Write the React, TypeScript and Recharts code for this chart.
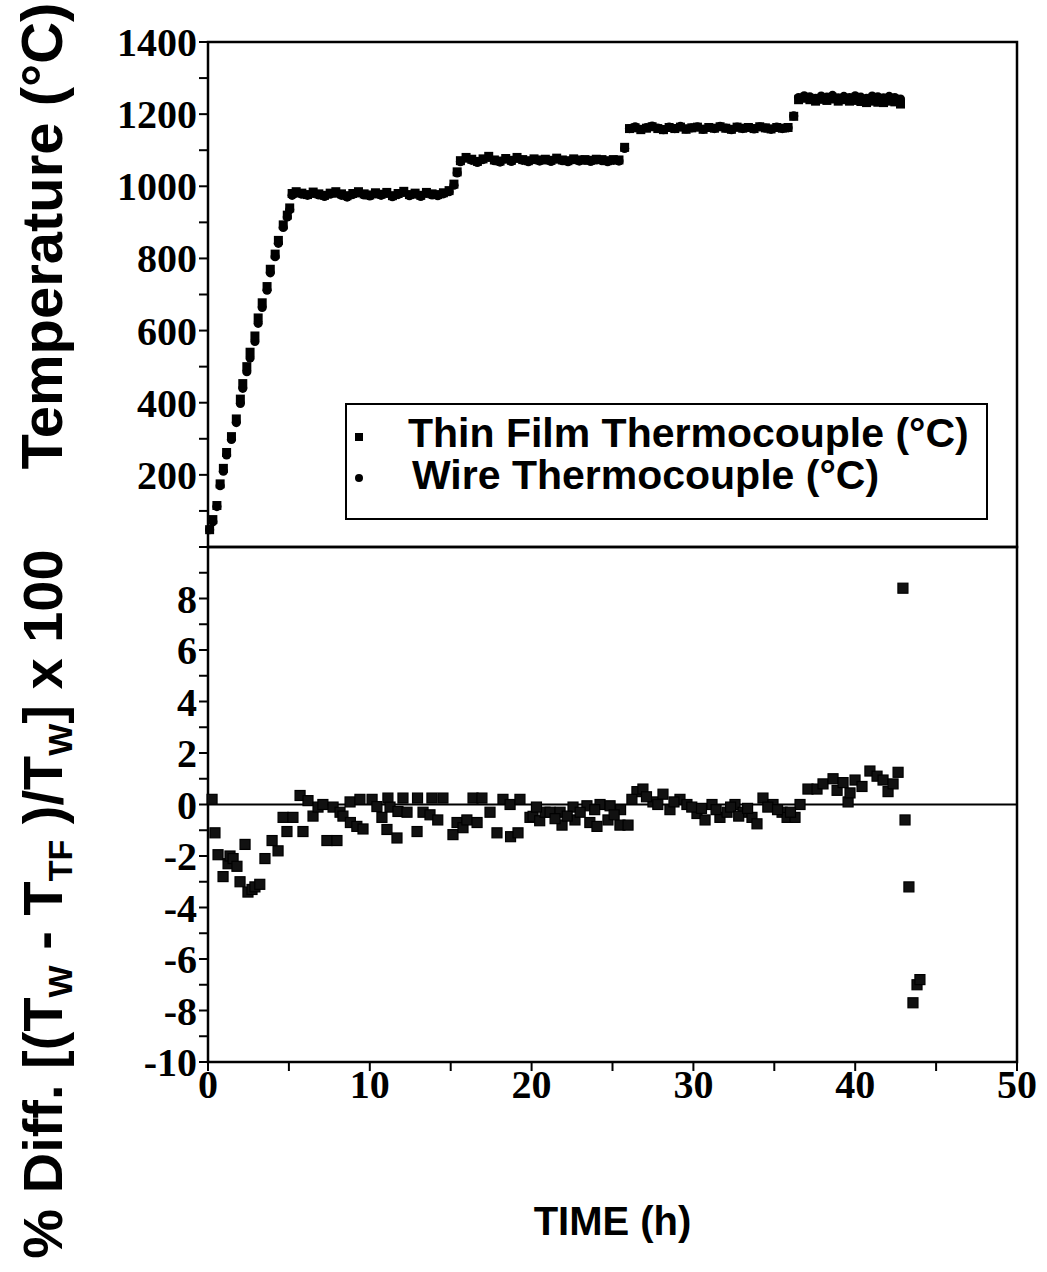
import React from 'react';
import {
  ScatterChart,
  Scatter,
  XAxis,
  YAxis,
  ReferenceArea,
  ReferenceLine,
  Legend,
} from 'recharts';

// ---- upper panel: temperature vs time ----
const tempHours = [
  // heat-up ramp
  0.1, 0.3, 0.55, 0.75, 0.95, 1.15, 1.45, 1.75, 2.0, 2.15, 2.4, 2.6, 2.9, 3.1, 3.35, 3.65, 3.85, 4.15, 4.35, 4.65, 4.9, 5.05, 5.2,
  // ~980 C hold
  5.45, 5.8, 6.15, 6.5, 6.85, 7.2, 7.55, 7.9, 8.25, 8.6, 8.95, 9.3, 9.65, 10.0, 10.35, 10.7, 11.05, 11.4, 11.75, 12.1, 12.45, 12.8, 13.15, 13.5, 13.85, 14.2, 14.55, 14.9,
  15.2, 15.4,
  // ~1070 C hold
  15.6, 15.95, 16.3, 16.65, 17.0, 17.35, 17.7, 18.05, 18.4, 18.75, 19.1, 19.45, 19.8, 20.15, 20.5, 20.85, 21.2, 21.55, 21.9, 22.25, 22.6, 22.95, 23.3, 23.65, 24.0, 24.35, 24.7, 25.05, 25.4,
  25.75,
  // ~1160 C hold
  26.05, 26.4, 26.75, 27.1, 27.45, 27.8, 28.15, 28.5, 28.85, 29.2, 29.55, 29.9, 30.25, 30.6, 30.95, 31.3, 31.65, 32.0, 32.35, 32.7, 33.05, 33.4, 33.75, 34.1, 34.45, 34.8, 35.15, 35.5, 35.85,
  36.2,
  // ~1245 C hold
  36.5, 36.85, 37.2, 37.55, 37.9, 38.25, 38.6, 38.95, 39.3, 39.65, 40.0, 40.35, 40.7, 41.05, 41.4, 41.75, 42.1, 42.45, 42.8,
];

const wireTemp = [
  48, 70, 112, 170, 210, 255, 298, 345, 398, 440, 486, 524, 570, 620, 664, 712, 760, 805, 842, 886, 915, 935, 975,
  982, 978, 975, 980, 976, 972, 978, 981, 975, 970, 977, 982, 976, 973, 979, 975, 980, 971, 977, 983, 974, 978, 972, 980, 976, 974, 979, 985,
  1003, 1037,
  1068, 1078, 1072, 1066, 1074, 1080, 1071, 1067, 1075, 1069, 1077, 1072, 1068, 1074, 1070, 1073, 1069, 1075, 1071, 1068, 1074, 1070, 1072, 1069, 1073, 1071, 1068, 1072, 1070,
  1105,
  1160, 1165, 1158, 1163, 1167, 1161, 1157, 1164, 1160, 1166, 1159, 1162, 1165, 1158, 1163, 1160, 1166, 1161, 1157, 1164, 1160, 1163, 1159, 1165, 1161, 1158, 1164, 1160, 1162,
  1195,
  1246, 1251, 1248, 1244, 1250, 1247, 1252, 1245, 1249, 1246, 1251, 1247, 1244, 1250, 1248, 1245, 1249, 1246, 1242,
];

const filmTemp = [
  48, 76, 115, 175, 218, 262, 306, 355, 410, 453, 500, 540, 585, 635, 677, 722, 770, 812, 850, 893, 920, 940, 980,
  985, 981, 977, 984, 979, 975, 981, 985, 979, 974, 980, 985, 979, 976, 982, 978, 983, 974, 980, 986, 977, 981, 975, 983, 979, 977, 982, 988,
  1006, 1040,
  1071, 1080, 1075, 1069, 1076, 1083, 1073, 1070, 1077, 1072, 1080, 1074, 1071, 1076, 1073, 1075, 1072, 1078, 1073, 1071, 1076, 1073, 1074, 1072, 1075, 1074, 1071, 1074, 1073,
  1108,
  1160, 1162, 1157, 1161, 1165, 1160, 1157, 1163, 1160, 1164, 1158, 1162, 1164, 1158, 1163, 1161, 1165, 1161, 1158, 1164, 1161, 1163, 1160, 1165, 1162, 1159, 1163, 1161, 1163,
  1194,
  1240, 1244, 1240, 1236, 1241, 1238, 1242, 1236, 1240, 1236, 1238, 1235, 1232, 1236, 1233, 1232, 1236, 1234, 1228,
];

// ---- lower panel: % difference ----
const diffHours = [
  0.25, 0.43, 0.62, 0.93, 1.24, 1.36, 1.55, 1.79, 1.98, 2.29,
  2.47, 2.72, 2.9, 3.2, 3.52, 3.96, 4.33, 4.64, 4.88, 5.25,
  5.69, 5.87, 6.18, 6.49, 6.8, 7.1, 7.35, 7.73, 7.97, 8.16,
  8.34, 8.78, 8.8, 9.2, 9.39, 9.58, 10.14, 10.44, 10.75, 11.06,
  11.12, 11.25, 11.68, 11.74, 12.05, 12.3, 12.92, 12.95, 13.29, 13.72,
  13.84, 14.2, 14.52, 15.14, 15.39, 15.76, 16.0, 16.38, 16.63, 16.93,
  17.43, 17.86, 18.23, 18.67, 18.7, 19.16, 19.28, 19.9, 20.09, 20.5,
  20.83, 21.14, 21.76, 21.88, 22.56, 22.68, 23.42, 23.6, 24.04, 24.23,
  24.72, 24.85, 25.46, 25.5, 25.96, 26.51, 26.88, 27.5, 28.12, 28.55,
  29.17, 29.6, 30.22, 30.72, 31.15, 31.64, 32.08, 32.57, 33.07, 33.62,
  33.93, 34.3, 34.92, 35.48, 35.79, 36.28, 36.59, 37.08, 37.64, 38.01,
  38.63, 38.88, 39.25, 39.56, 39.68, 39.99, 40.42, 40.91, 41.35, 41.72,
  42.03, 42.34, 42.65, 42.95, 43.08, 43.32, 43.57, 43.82, 44.0,
  20.3, 21.45, 22.2, 23.0, 23.9, 25.1, 26.2, 27.1, 27.8, 28.8,
  29.9, 30.5, 31.4, 32.3, 32.8, 33.35, 34.6, 35.2, 36.0,
];

const pctDiff = [
  0.2, -1.1, -1.95, -2.8, -2.3, -2.0, -2.1, -2.4, -3.0, -1.55,
  -3.4, -3.3, -3.2, -3.1, -2.1, -1.4, -1.8, -0.5, -1.05, -0.5,
  0.35, -1.05, 0.15, -0.45, -0.1, 0.0, -1.4, -0.1, -1.4, -0.3,
  -0.45, 0.1, -0.7, -0.85, 0.2, -0.95, 0.2, -0.08, -0.5, -0.97,
  0.25, -0.1, -1.3, -0.27, 0.25, -0.3, -1.05, 0.25, -0.3, -0.4,
  0.25, -0.6, 0.25, -1.17, -0.7, -0.9, -0.6, 0.25, -0.7, 0.25,
  -0.3, -1.1, 0.2, 0.0, -1.25, -1.1, 0.2, -0.5, -0.46, -0.63,
  -0.3, -0.3, -0.3, -0.8, -0.1, -0.6, -0.05, -0.7, -0.85, 0.0,
  -0.6, -0.05, -0.8, -0.2, -0.8, 0.5, 0.6, 0.1, 0.4, -0.2,
  0.2, 0.0, -0.35, -0.6, 0.0, -0.5, -0.3, 0.0, -0.3, -0.5,
  -0.75, 0.25, 0.0, -0.3, -0.5, -0.5, 0.0, 0.6, 0.6, 0.8,
  1.0, 0.55, 0.85, 0.1, 0.45, 0.95, 0.7, 1.3, 1.1, 0.95,
  0.5, 0.8, 1.25, 8.4, -0.6, -3.2, -7.7, -7.0, -6.8,
  -0.1, -0.55, -0.45, -0.3, -0.2, -0.4, 0.2, 0.3, 0.0, 0.1,
  -0.1, -0.15, -0.2, -0.1, -0.45, -0.15, -0.1, -0.2, -0.3,
];

const timeTicks = [0, 5, 10, 15, 20, 25, 30, 35, 40, 45, 50];
const tempTicks = [0, 100, 200, 300, 400, 500, 600, 700, 800, 900, 1000, 1100, 1200, 1300, 1400];
const tempLabels = [200, 400, 600, 800, 1000, 1200, 1400];
const diffTicks = [-10, -9, -8, -7, -6, -5, -4, -3, -2, -1, 0, 1, 2, 3, 4, 5, 6, 7, 8, 9, 10];
const diffLabels = [-10, -8, -6, -4, -2, 0, 2, 4, 6, 8];

const wireData = tempHours.map((h, i) => ({ h, t: wireTemp[i] }));
const filmData = tempHours.map((h, i) => ({ h, t: filmTemp[i] }));
const diffData = diffHours.map((h, i) => ({ h, d: pctDiff[i] }));

const SERIF = '"Liberation Serif", "Times New Roman", serif';
const SANS = '"Liberation Sans", Arial, Helvetica, sans-serif';

const W = 1047;
const RIGHT = 30;
const AXIS_W = 208;

const YTick = ({ x, y, payload, labels }: any) => (
  <g>
    <line x1={x + 3} x2={x + 12} y1={y} y2={y} stroke="#000" strokeWidth={2} />
    {labels.includes(payload.value) && (
      <text x={x + 1} y={y} dy={14} textAnchor="end" fontFamily={SERIF} fontWeight={700} fontSize={40} fill="#000">
        {payload.value}
      </text>
    )}
  </g>
);

const XTick = ({ x, y, payload }: any) => (
  <g>
    <line x1={x} x2={x} y1={y - 12} y2={y - 3} stroke="#000" strokeWidth={2} />
    {payload.value % 10 === 0 && (
      <text x={x} y={y + 24} textAnchor="middle" fontFamily={SERIF} fontWeight={700} fontSize={40} fill="#000">
        {payload.value}
      </text>
    )}
  </g>
);

const smallSquare = (p: any) => <rect x={p.cx - 4.5} y={p.cy - 4.5} width={9} height={9} fill="#000" />;
const smallCircle = (p: any) => <circle cx={p.cx} cy={p.cy} r={4.6} fill="#000" />;
const diffSquare = (p: any) => (
  <rect x={p.cx - 5} y={p.cy - 5} width={10} height={10} fill="#111" stroke="#000" strokeWidth={1.2} />
);

const LegendBox = () => (
  <svg width={643} height={117}>
    <rect x={1} y={1} width={641} height={115} fill="#fff" stroke="#000" strokeWidth={2} />
    <rect x={10} y={30} width={8} height={8} fill="#000" />
    <text x={63} y={44} fontFamily={SANS} fontWeight={700} fontSize={41} fill="#000">
      Thin Film Thermocouple (°C)
    </text>
    <circle cx={14} cy={75} r={4} fill="#000" />
    <text x={67} y={86} fontFamily={SANS} fontWeight={700} fontSize={41} fill="#000">
      Wire Thermocouple (°C)
    </text>
  </svg>
);

const TempTitle = () => (
  <text transform="translate(62,236) rotate(-90)" textAnchor="middle" fontFamily={SANS} fontWeight={700} fontSize={58} fill="#000">
    Temperature (°C)
  </text>
);

const DiffTitle = () => (
  <text transform="translate(62,404) rotate(-90)" textAnchor="middle" fontFamily={SANS} fontWeight={700} fontSize={56} fill="#000">
    % Diff. [(T
    <tspan fontSize={34} dy={10}>W</tspan>
    <tspan dy={-10}> - T</tspan>
    <tspan fontSize={34} dy={10}>TF</tspan>
    <tspan dy={-10}> )/T</tspan>
    <tspan fontSize={34} dy={10}>W</tspan>
    <tspan dy={-10}>] x 100</tspan>
  </text>
);

export default function App() {
  return (
    <div style={{ position: 'absolute', left: 0, top: 0, width: W, height: 1272, background: '#fff' }}>
      <div style={{ position: 'absolute', left: 0, top: 0 }}>
        <ScatterChart width={W} height={560} margin={{ top: 42, right: RIGHT, bottom: 13, left: 0 }}>
          <XAxis type="number" dataKey="h" domain={[0, 50]} hide />
          <YAxis
            type="number"
            dataKey="t"
            domain={[0, 1400]}
            ticks={tempTicks}
            interval={0}
            width={AXIS_W}
            axisLine={false}
            tickLine={false}
            tickSize={8}
            tickMargin={4}
            tick={(props: any) => <YTick {...props} labels={tempLabels} />}
            label={() => <TempTitle />}
          />
          <ReferenceArea x1={0} x2={50} y1={0} y2={1400} fill="none" stroke="#000" strokeWidth={2.5} />
          <Scatter name="Wire Thermocouple (°C)" data={wireData} shape={smallCircle} isAnimationActive={false} />
          <Scatter name="Thin Film Thermocouple (°C)" data={filmData} shape={smallSquare} isAnimationActive={false} />
          <Legend
            layout="vertical"
            align="center"
            verticalAlign="middle"
            wrapperStyle={{ left: 345, top: 403, width: 643, height: 117 }}
            content={() => <LegendBox />}
          />
        </ScatterChart>
      </div>
      <div style={{ position: 'absolute', left: 0, top: 500 }}>
        <ScatterChart width={W} height={760} margin={{ top: 47, right: RIGHT, bottom: 0, left: 0 }}>
          <XAxis
            type="number"
            dataKey="h"
            domain={[0, 50]}
            ticks={timeTicks}
            interval={0}
            height={198}
            axisLine={false}
            tickLine={false}
            tickSize={8}
            tickMargin={4}
            tick={(props: any) => <XTick {...props} />}
            label={{
              value: 'TIME (h)',
              position: 'insideBottom',
              offset: 25,
              fontFamily: SANS,
              fontWeight: 700,
              fontSize: 40,
              fill: '#000',
            }}
          />
          <YAxis
            type="number"
            dataKey="d"
            domain={[-10, 10]}
            ticks={diffTicks}
            interval={0}
            width={AXIS_W}
            axisLine={false}
            tickLine={false}
            tickSize={8}
            tickMargin={4}
            tick={(props: any) => <YTick {...props} labels={diffLabels} />}
            label={() => <DiffTitle />}
          />
          <ReferenceArea x1={0} x2={50} y1={-10} y2={10} fill="none" stroke="#000" strokeWidth={2.5} />
          <ReferenceLine y={0} stroke="#000" strokeWidth={2.2} />
          <Scatter name="% Diff" data={diffData} shape={diffSquare} isAnimationActive={false} />
        </ScatterChart>
      </div>
    </div>
  );
}
